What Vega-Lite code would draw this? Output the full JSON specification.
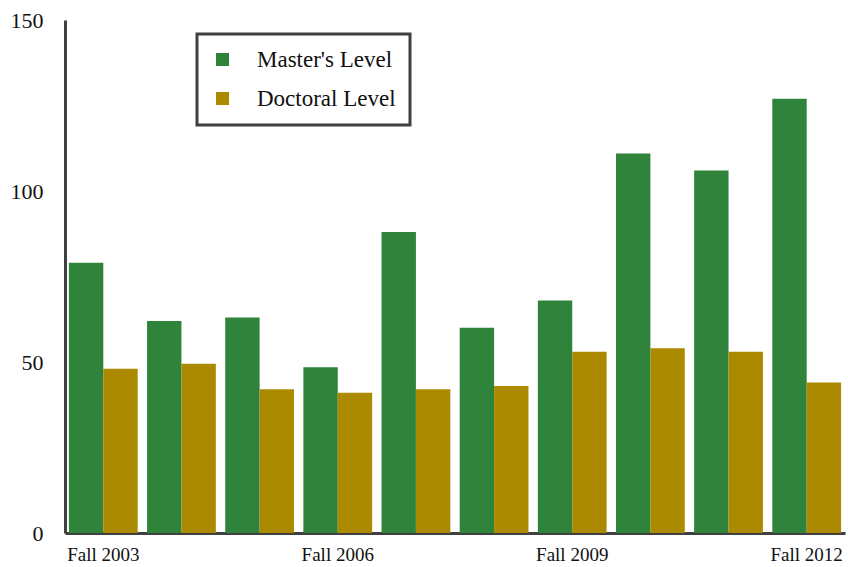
{
  "$schema": "https://vega.github.io/schema/vega-lite/v6.json",
  "width": 780,
  "height": 513,
  "autosize": {"type": "none"},
  "padding": {"left": 65, "top": 20, "right": 3, "bottom": 34},
  "background": "white",
  "data": {
    "values": [
      {"year": "Fall 2003", "level": "Master's Level", "value": 79},
      {"year": "Fall 2003", "level": "Doctoral Level", "value": 48},
      {"year": "Fall 2004", "level": "Master's Level", "value": 62},
      {"year": "Fall 2004", "level": "Doctoral Level", "value": 49.5},
      {"year": "Fall 2005", "level": "Master's Level", "value": 63},
      {"year": "Fall 2005", "level": "Doctoral Level", "value": 42},
      {"year": "Fall 2006", "level": "Master's Level", "value": 48.5},
      {"year": "Fall 2006", "level": "Doctoral Level", "value": 41},
      {"year": "Fall 2007", "level": "Master's Level", "value": 88},
      {"year": "Fall 2007", "level": "Doctoral Level", "value": 42},
      {"year": "Fall 2008", "level": "Master's Level", "value": 60},
      {"year": "Fall 2008", "level": "Doctoral Level", "value": 43},
      {"year": "Fall 2009", "level": "Master's Level", "value": 68},
      {"year": "Fall 2009", "level": "Doctoral Level", "value": 53},
      {"year": "Fall 2010", "level": "Master's Level", "value": 111},
      {"year": "Fall 2010", "level": "Doctoral Level", "value": 54},
      {"year": "Fall 2011", "level": "Master's Level", "value": 106},
      {"year": "Fall 2011", "level": "Doctoral Level", "value": 53},
      {"year": "Fall 2012", "level": "Master's Level", "value": 127},
      {"year": "Fall 2012", "level": "Doctoral Level", "value": 44}
    ]
  },
  "mark": {"type": "bar"},
  "encoding": {
    "x": {
      "field": "year",
      "type": "ordinal",
      "sort": null,
      "scale": {"paddingInner": 0.12, "paddingOuter": 0.05},
      "axis": {
        "title": null,
        "values": ["Fall 2003", "Fall 2006", "Fall 2009", "Fall 2012"],
        "labelAngle": 0,
        "ticks": false,
        "domainColor": "#404040",
        "domainWidth": 3,
        "labelFont": "Liberation Serif",
        "labelFontSize": 19,
        "labelColor": "#111111",
        "labelPadding": 12
      }
    },
    "xOffset": {
      "field": "level",
      "type": "nominal",
      "sort": ["Master's Level", "Doctoral Level"]
    },
    "y": {
      "field": "value",
      "type": "quantitative",
      "scale": {"domain": [0, 150], "nice": false},
      "axis": {
        "title": null,
        "values": [0, 50, 100, 150],
        "ticks": false,
        "grid": false,
        "domainColor": "#404040",
        "domainWidth": 3,
        "labelFont": "Liberation Serif",
        "labelFontSize": 22,
        "labelColor": "#111111",
        "labelPadding": 22
      }
    },
    "color": {
      "field": "level",
      "type": "nominal",
      "sort": ["Master's Level", "Doctoral Level"],
      "scale": {"domain": ["Master's Level", "Doctoral Level"], "range": ["#2f833b", "#ac8a00"]},
      "legend": {
        "title": null,
        "orient": "none",
        "legendX": 132,
        "legendY": 14,
        "direction": "vertical",
        "symbolType": "square",
        "symbolSize": 169,
        "symbolStrokeWidth": 0,
        "labelFont": "Liberation Serif",
        "labelFontSize": 23,
        "labelColor": "#111111",
        "labelOffset": 23,
        "rowPadding": 15,
        "padding": 14,
        "strokeColor": "#404040",
        "fillColor": "white"
      }
    }
  },
  "config": {
    "view": {"stroke": null},
    "legend": {"strokeWidth": 3, "labelFont": "Liberation Serif", "labelFontSize": 23}
  }
}
